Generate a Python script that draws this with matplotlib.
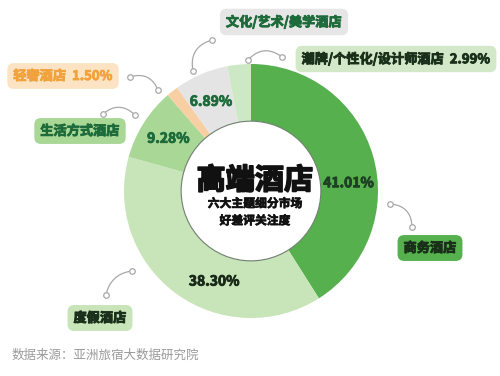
import matplotlib
matplotlib.use("Agg")
import matplotlib.pyplot as plt
import matplotlib.patheffects as pe
import numpy as np
from matplotlib.patches import Circle

plt.rcParams['font.family'] = ['Noto Sans CJK SC', 'DejaVu Sans']

categories = ["商务酒店", "度假酒店", "生活方式酒店", "轻奢酒店", "文化/艺术/美学酒店", "潮牌/个性化/设计师酒店"]
values = [41.01, 38.30, 9.28, 1.50, 6.89, 2.99]
pct_labels = ["41.01%", "38.30%", "9.28%", "", "6.89%", ""]
colors = ["#55b04d", "#c8e4b9", "#a9d796", "#f7cfa2", "#e4e4e4", "#cde8c4"]

W, H = 500, 376
fig = plt.figure(figsize=(W / 100, H / 100), dpi=100)
fig.patch.set_facecolor("white")


def heavy(c, lw=0.7):
    return [pe.withStroke(linewidth=lw, foreground=c)]


# pie axes
cx, cy, R = 251, 191, 127
ax = fig.add_axes([(cx - R) / W, (H - cy - R) / H, 2 * R / W, 2 * R / H])
wedges, _ = ax.pie(values, colors=colors, startangle=90, counterclock=False,
                   radius=1.0, wedgeprops=dict(width=0.45, edgecolor="none"))
ax.set_xlim(-1, 1)
ax.set_ylim(-1, 1)
ax.set_aspect("equal")
ax.axis("off")
ax.add_patch(Circle((0, 0), 0.55, facecolor="white", edgecolor="#6f7f6f", lw=0.8, zorder=3))

pct_shift = [-11.6, 14.5, 0, 0, 1, 0]
pct_colors = ["#1f3f25", "#1a2a1a", "#1d6b3a", "#1d6b3a", "#1d6b3a", "#1d6b3a"]
for w, lab, sh, c in zip(wedges, pct_labels, pct_shift, pct_colors):
    if not lab:
        continue
    ang = np.deg2rad((w.theta1 + w.theta2) / 2 + sh)
    ax.text(0.77 * np.cos(ang), 0.77 * np.sin(ang), lab, ha="center", va="center",
            fontsize=10, fontweight="bold", color=c, zorder=4, path_effects=heavy(c, 0.6))

ax.text(0.03, 0.085, "高端酒店", ha="center", va="center", fontsize=21, fontweight="bold",
        color="#111111", zorder=4, path_effects=heavy("#111111", 1.2))
ax.text(0.03, -0.1, "六大主题细分市场", ha="center", va="center", fontsize=8.5,
        fontweight="bold", color="#111111", zorder=4, path_effects=heavy("#111111", 0.5))
ax.text(0.03, -0.235, "好差评关注度", ha="center", va="center", fontsize=8.5,
        fontweight="bold", color="#111111", zorder=4, path_effects=heavy("#111111", 0.5))

# overlay axes in pixel coords for callouts
ov = fig.add_axes([0, 0, 1, 1])
ov.set_xlim(0, W)
ov.set_ylim(H, 0)
ov.axis("off")

box_specs = [
    # text, center, text color, box color
    ("商务酒店", (430, 248), "#1a2f1a", "#55b04d"),
    ("度假酒店", (100, 318), "#1a2f1a", "#c8e4b9"),
    ("生活方式酒店", (80, 131), "#1d6b3a", "#a9d796"),
    ("轻奢酒店  1.50%", (63, 76), "#f0a23c", "#fbe3c4"),
    ("文化/艺术/美学酒店", (284, 22), "#1d6b3a", "#e6e6e6"),
    ("潮牌/个性化/设计师酒店  2.99%", (396, 59), "#1a2f1a", "#d3e8c9"),
]
for txt, (x, y), tc, bc in box_specs:
    ov.text(x, y, txt, ha="center", va="center", fontsize=9.5, fontweight="bold", color=tc,
            path_effects=heavy(tc, 0.6),
            bbox=dict(boxstyle="round,pad=0.45,rounding_size=0.5", facecolor=bc, edgecolor="none"))

connectors = [
    ((390, 204), (412, 227), -0.45),
    ((106, 295), (132, 271), -0.35),
    ((103, 114), (135, 115), -0.45),
    ((130, 77), (158, 90), -0.45),
    ((193, 71), (212, 40), -0.45),
    ((248, 60), (282, 57), -0.45),
]
for (x0, y0), (x1, y1), bend in connectors:
    t = np.linspace(0, 1, 30)
    mx, my = (x0 + x1) / 2, (y0 + y1) / 2
    dx, dy = x1 - x0, y1 - y0
    px, py = mx - dy * bend, my + dx * bend
    bx = (1 - t) ** 2 * x0 + 2 * (1 - t) * t * px + t ** 2 * x1
    by = (1 - t) ** 2 * y0 + 2 * (1 - t) * t * py + t ** 2 * y1
    ov.plot(bx, by, color="#a8a8a8", lw=0.9)
    for (xx, yy) in [(x0, y0), (x1, y1)]:
        ov.plot(xx, yy, marker="o", ms=4, mfc="white", mec="#a8a8a8", mew=0.9)

ov.text(12, 355, "数据来源：亚洲旅宿大数据研究院", ha="left", va="center", fontsize=9,
        color="#9a9a9a")

fig.savefig("out.png", dpi=100, facecolor="white")
